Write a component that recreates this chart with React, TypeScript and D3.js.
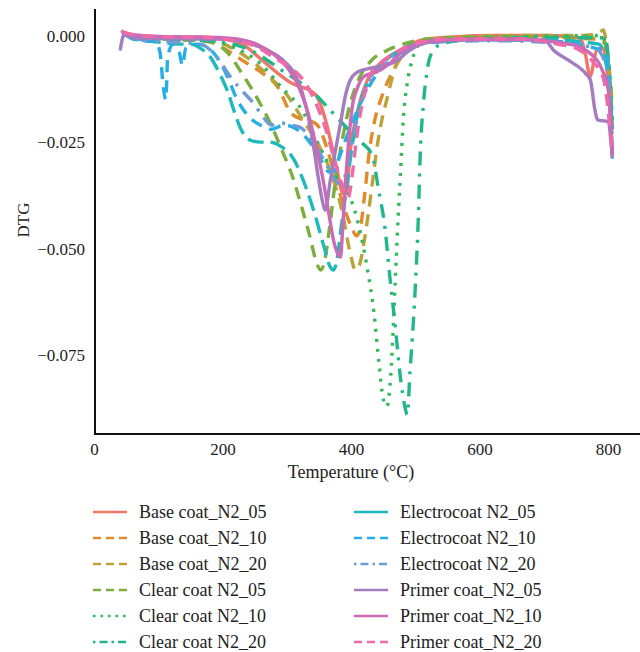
import React from 'react';
import * as d3 from 'd3';

type P = [number, number];

const baseCoat05: P[] = [[42,0.0012],[50,0.0002],[80,-0.0004],[120,-0.0005],[160,-0.0004],[200,-0.0008],[230,-0.002],[255,-0.005],[285,-0.0088],[305,-0.011],[320,-0.012],[335,-0.0128],[347,-0.0145],[358,-0.019],[368,-0.025],[378,-0.032],[387,-0.037],[392,-0.037],[398,-0.027],[409,-0.018],[425,-0.0104],[445,-0.0065],[476,-0.0034],[510,-0.001],[560,-0.0003],[620,0],[700,0],[755,-0.0005],[765,-0.005],[771,-0.0097],[782,-0.0034],[792,-0.003],[799,-0.01],[806,-0.028]];
const baseCoat10: P[] = [[45,0.0005],[80,-0.0005],[130,-0.0008],[170,-0.001],[201,-0.003],[232,-0.006],[263,-0.009],[285,-0.012],[305,-0.018],[320,-0.0195],[335,-0.02],[347,-0.021],[365,-0.028],[380,-0.036],[390,-0.041],[400,-0.045],[408,-0.047],[414,-0.045],[420,-0.038],[428,-0.027],[436,-0.02],[448,-0.014],[462,-0.009],[478,-0.005],[500,-0.0025],[540,-0.001],[600,-0.0005],[700,-0.0005],[780,-0.0008],[795,-0.002],[806,-0.022]];
const baseCoat20: P[] = [[45,0.0008],[80,-0.0005],[130,-0.0008],[180,-0.001],[215,-0.003],[245,-0.006],[275,-0.01],[300,-0.014],[325,-0.02],[350,-0.026],[370,-0.033],[385,-0.041],[398,-0.051],[406,-0.055],[412,-0.054],[419,-0.049],[426,-0.042],[433,-0.034],[440,-0.026],[447,-0.02],[455,-0.015],[465,-0.009],[480,-0.004],[510,-0.0015],[560,-0.0005],[650,0],[760,0],[785,0.0006],[792,0.0013],[797,-0.002],[806,-0.016]];
const clearCoat05: P[] = [[45,0.0005],[80,-0.0005],[130,-0.001],[180,-0.0015],[207,-0.004],[230,-0.009],[258,-0.016],[275,-0.021],[292,-0.027],[308,-0.033],[322,-0.04],[335,-0.047],[345,-0.053],[352,-0.055],[358,-0.053],[366,-0.045],[375,-0.034],[385,-0.025],[398,-0.016],[412,-0.01],[430,-0.006],[455,-0.0035],[485,-0.0018],[520,-0.0008],[600,-0.0003],[700,-0.0003],[790,-0.0005],[798,-0.004],[806,-0.02]];
const clearCoat10: P[] = [[45,0.0005],[80,-0.0005],[130,-0.0008],[180,-0.0012],[220,-0.003],[258,-0.0065],[290,-0.012],[325,-0.018],[350,-0.026],[375,-0.033],[398,-0.038],[412,-0.045],[425,-0.055],[435,-0.065],[443,-0.077],[449,-0.085],[455,-0.087],[460,-0.082],[464,-0.072],[468,-0.058],[471,-0.048],[476,-0.033],[481,-0.019],[487,-0.011],[494,-0.006],[507,-0.002],[540,-0.001],[650,-0.0003],[790,0],[800,-0.006],[806,-0.02]];
const clearCoat20: P[] = [[45,0.0005],[90,-0.0008],[150,-0.001],[200,-0.0015],[250,-0.004],[290,-0.008],[320,-0.011],[345,-0.014],[370,-0.018],[395,-0.022],[415,-0.025],[432,-0.028],[442,-0.036],[452,-0.045],[460,-0.057],[468,-0.068],[476,-0.08],[483,-0.087],[487,-0.089],[491,-0.079],[496,-0.068],[500,-0.057],[504,-0.043],[507,-0.028],[512,-0.016],[518,-0.008],[525,-0.004],[540,-0.002],[580,-0.001],[700,-0.0005],[795,-0.0005],[800,-0.006],[806,-0.025]];
const electrocoat05: P[] = [[45,0.0005],[60,-0.0008],[100,-0.0015],[130,-0.002],[150,-0.002],[165,-0.003],[180,-0.005],[195,-0.009],[207,-0.013],[218,-0.018],[228,-0.022],[242,-0.0245],[258,-0.025],[272,-0.025],[290,-0.026],[310,-0.029],[330,-0.036],[345,-0.043],[358,-0.05],[366,-0.054],[372,-0.055],[377,-0.053],[384,-0.045],[392,-0.036],[400,-0.027],[410,-0.018],[425,-0.011],[445,-0.007],[470,-0.004],[500,-0.002],[560,-0.001],[700,-0.001],[785,-0.002],[800,-0.01],[806,-0.022]];
const electrocoat10: P[] = [[45,0.0005],[70,-0.001],[95,-0.0015],[102,-0.004],[107,-0.012],[111,-0.015],[114,-0.005],[122,-0.002],[132,-0.004],[137,-0.007],[142,-0.003],[160,-0.002],[185,-0.004],[205,-0.009],[222,-0.015],[240,-0.019],[258,-0.021],[275,-0.022],[295,-0.021],[315,-0.022],[335,-0.025],[352,-0.029],[365,-0.032],[372,-0.032],[380,-0.029],[392,-0.024],[405,-0.019],[420,-0.014],[440,-0.009],[460,-0.006],[490,-0.003],[530,-0.0015],[600,-0.001],[700,-0.0012],[780,-0.003],[797,-0.004],[806,-0.028]];
const electrocoat20: P[] = [[45,0.0003],[80,-0.0012],[130,-0.0016],[165,-0.002],[190,-0.005],[213,-0.01],[230,-0.013],[248,-0.016],[262,-0.019],[275,-0.021],[290,-0.0205],[305,-0.021],[320,-0.0215],[340,-0.025],[360,-0.03],[375,-0.034],[385,-0.035],[393,-0.031],[402,-0.024],[415,-0.016],[432,-0.01],[455,-0.006],[485,-0.003],[530,-0.0015],[620,-0.0012],[740,-0.002],[780,-0.003],[798,-0.008],[806,-0.029]];
const primerCoat05: P[] = [[40,-0.0035],[46,0.0002],[60,-0.0005],[100,-0.0007],[150,-0.0008],[200,-0.0008],[240,-0.0018],[270,-0.0035],[295,-0.006],[315,-0.01],[330,-0.017],[340,-0.025],[348,-0.033],[355,-0.039],[359,-0.041],[367,-0.034],[375,-0.027],[383,-0.0205],[390,-0.0145],[398,-0.0105],[410,-0.0085],[425,-0.0078],[445,-0.0072],[470,-0.006],[490,-0.0035],[520,-0.0016],[580,-0.001],[700,-0.001],[715,-0.0035],[740,-0.006],[765,-0.009],[772,-0.0105],[779,-0.0175],[783,-0.0198],[799,-0.0202],[806,-0.0285]];
const primerCoat10: P[] = [[42,0.0008],[60,0.0002],[100,-0.0002],[150,-0.0003],[200,-0.0005],[230,-0.001],[255,-0.0022],[280,-0.0045],[300,-0.0075],[318,-0.012],[332,-0.018],[345,-0.026],[356,-0.034],[365,-0.042],[372,-0.048],[378,-0.051],[383,-0.052],[386,-0.046],[390,-0.036],[395,-0.026],[401,-0.017],[410,-0.012],[420,-0.0095],[440,-0.0085],[460,-0.0065],[480,-0.0035],[505,-0.0018],[540,-0.001],[650,-0.0008],[740,-0.002],[770,-0.004],[790,-0.008],[800,-0.013],[806,-0.028]];
const primerCoat20: P[] = [[44,0.0008],[70,0],[120,-0.0003],[170,-0.0004],[210,-0.001],[250,-0.0025],[285,-0.0057],[305,-0.0075],[325,-0.0105],[345,-0.016],[360,-0.022],[375,-0.03],[388,-0.036],[395,-0.038],[401,-0.033],[408,-0.024],[418,-0.015],[430,-0.009],[450,-0.006],[475,-0.0035],[510,-0.0015],[560,-0.0008],[660,-0.0008],[720,-0.002],[750,-0.003],[775,-0.006],[792,-0.01],[806,-0.028]];

const seriesData: P[][] = [baseCoat05, baseCoat10, baseCoat20, clearCoat05, clearCoat10, clearCoat20, electrocoat05, electrocoat10, electrocoat20, primerCoat05, primerCoat10, primerCoat20];
const seriesNames = ['Base coat_N2_05','Base coat_N2_10','Base coat_N2_20','Clear coat N2_05','Clear coat N2_10','Clear coat N2_20','Electrocoat N2_05','Electrocoat N2_10','Electrocoat N2_20','Primer coat_N2_05','Primer coat_N2_10','Primer coat_N2_20'];
const seriesColors = ['#F0766A','#E08A2C','#BBA33A','#7BAE3C','#34B85C','#22B78A','#1FB9B9','#27AEE6','#6E9AD6','#A27DC0','#CA6BB6','#EE6AA9'];
const plotDash = [null,'12,8','12,8','12,8','3,7','3,8,14,8','16,7','12,8','3,8,14,8',null,null,'12,8'];
const legendDash = [null,'8,5','8,5','8,5','2.5,5','2.5,4,8,4',null,'8,5','2.5,4,8,4',null,null,'8,5'];

const xTicks = [0, 200, 400, 600, 800];
const yTicks = [0, -0.025, -0.05, -0.075];
const yTickLabels = ['0.000', '\u22120.025', '\u22120.050', '\u22120.075'];

const FONT = '"Liberation Serif", "DejaVu Serif", serif';

export default function App() {
  const x = d3.scaleLinear().domain([0, 846]).range([94.5, 638]);
  const y = d3.scaleLinear().domain([-0.0935, 0.006]).range([434, 10]);
  const line = d3.line<P>().x(d => x(d[0])).y(d => y(d[1])).curve(d3.curveMonotoneX);

  return (
    <svg width={640} height={652} style={{ position: 'absolute', left: 0, top: 0, background: '#fff' }} fontFamily={FONT}>
      <rect width={640} height={652} fill="#fff" />
      {seriesData.map((d, i) => (
        <path key={i} d={line(d) || ''} fill="none" stroke={seriesColors[i]} strokeWidth={3.4}
          strokeDasharray={plotDash[i] || undefined} strokeLinejoin="round" />
      ))}
      <line x1={95} x2={95} y1={9} y2={435} stroke="#111" strokeWidth={2} />
      <line x1={94} x2={640} y1={434} y2={434} stroke="#111" strokeWidth={2} />
      {yTicks.map((t, i) => (
        <text key={i} x={85} y={y(t)} dy="0.35em" textAnchor="end" fontSize={17} fill="#222">{yTickLabels[i]}</text>
      ))}
      {xTicks.map((t, i) => (
        <text key={i} x={x(t)} y={455} textAnchor="middle" fontSize={17} fill="#222">{t}</text>
      ))}
      <text transform="translate(29,220) rotate(-90)" textAnchor="middle" fontSize={17} fill="#222">DTG</text>
      <text x={351} y={478} textAnchor="middle" fontSize={18} fill="#222">Temperature (°C)</text>
      {seriesNames.map((name, i) => {
        const col = Math.floor(i / 6);
        const row = i % 6;
        const kx = col === 0 ? 93 : 354;
        const cy = 512 + row * 26;
        return (
          <g key={i}>
            <line x1={kx} x2={kx + 34} y1={cy} y2={cy} stroke={seriesColors[i]} strokeWidth={2.6}
              strokeDasharray={legendDash[i] || undefined} />
            <text x={kx + 46} y={cy} dy="0.33em" fontSize={18} fill="#222">{name}</text>
          </g>
        );
      })}
    </svg>
  );
}
